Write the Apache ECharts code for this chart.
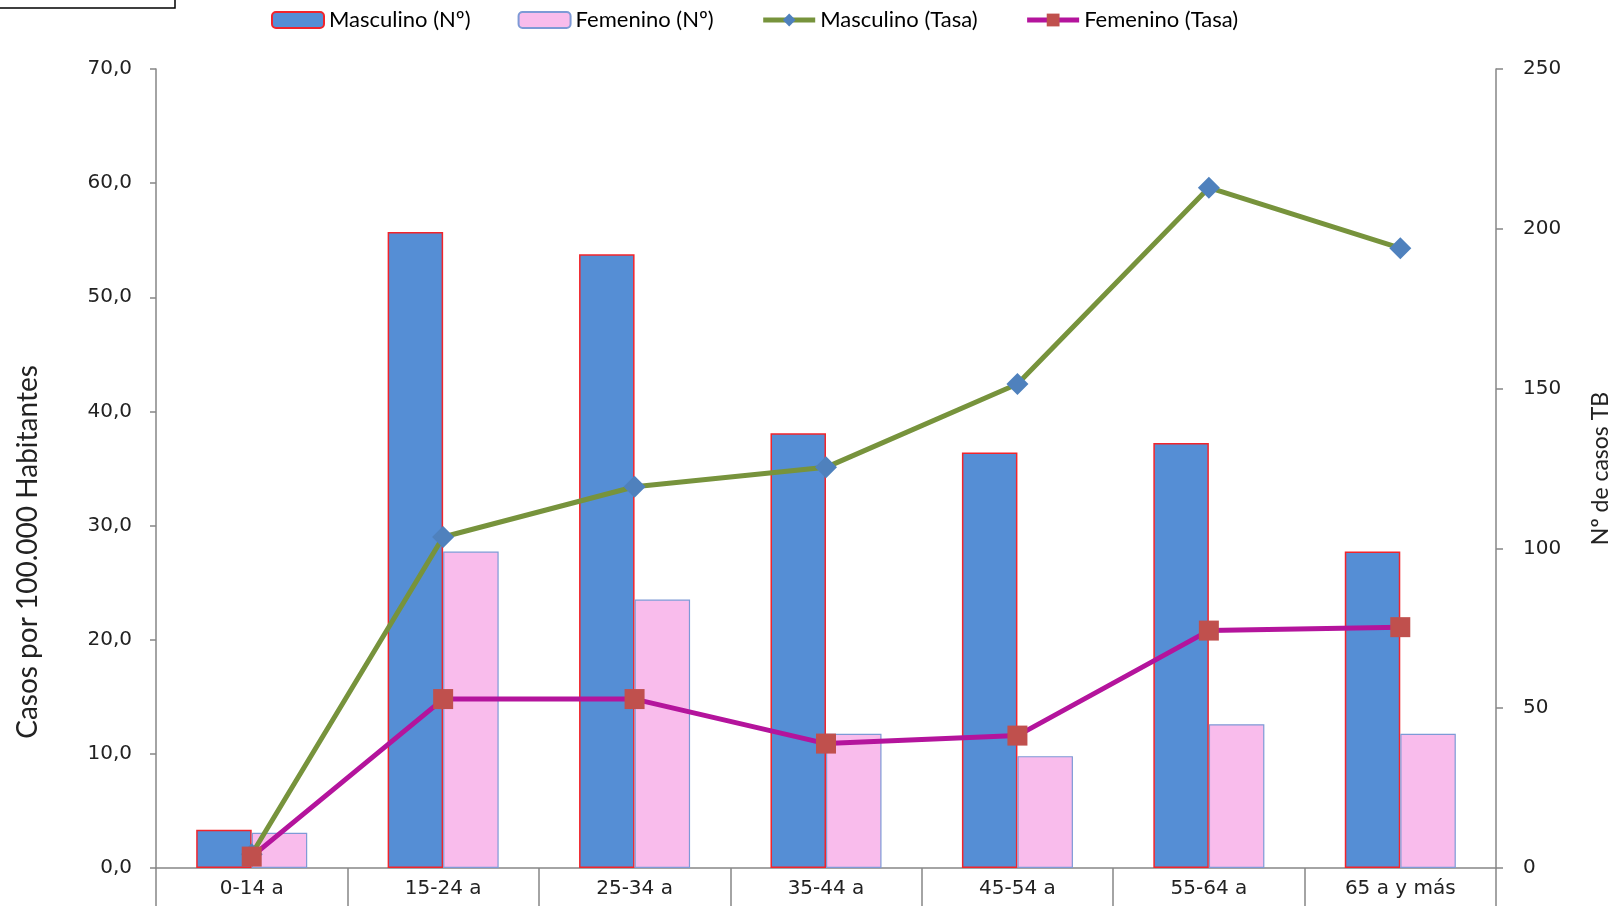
<!DOCTYPE html>
<html>
<head>
<meta charset="utf-8">
<script src="https://cdn.jsdelivr.net/npm/echarts@6/dist/echarts.min.js"></script>
<style>
html,body{margin:0;padding:0;background:#fff;}
#chart{width:1618px;height:906px;}
</style>
</head>
<body>
<div id="chart"></div>
<script>
const categories = ['0-14 a', '15-24 a', '25-34 a', '35-44 a', '45-54 a', '55-64 a', '65 a y más'];
const masculinoN = [12, 199, 192, 136, 130, 133, 99];
const femeninoN = [11, 99, 84, 42, 35, 45, 42];
const masculinoTasa = [1.2, 29.0, 33.4, 35.1, 42.4, 59.6, 54.3];
const femeninoTasa = [1.0, 14.8, 14.8, 10.9, 11.6, 20.8, 21.1];
const leftTicks = { min: 0, max: 70, interval: 10 };
const rightTicks = { min: 0, max: 250, interval: 50 };

const chart = echarts.init(document.getElementById('chart'));
const tickFont = 'DejaVu Sans';
const titleFont = 'Lato';
const axisGray = '#868686';

chart.setOption({
  animation: false,
  backgroundColor: '#ffffff',
  legend: {
    left: 266,
    top: 4,
    itemWidth: 52,
    itemHeight: 16,
    itemGap: 47,
    textStyle: { fontFamily: titleFont, fontSize: 22, color: '#000' },
    data: [
      { name: 'Masculino (Nº)' },
      { name: 'Femenino (Nº)' },
      { name: 'Masculino (Tasa)', lineStyle: { width: 5 } },
      { name: 'Femenino (Tasa)', lineStyle: { width: 5 } }
    ]
  },
  grid: { left: 156, right: 122, top: 69, bottom: 38, containLabel: false, outerBoundsMode: 'none' },
  xAxis: {
    type: 'category',
    data: categories,
    boundaryGap: true,
    axisLine: { lineStyle: { color: axisGray, width: 1.5 } },
    axisTick: { show: true, interval: 0, alignWithLabel: false, length: 40, lineStyle: { color: axisGray, width: 1.5 } },
    axisLabel: { interval: 0, fontFamily: tickFont, fontSize: 20, color: '#222', margin: 11 }
  },
  yAxis: [
    {
      type: 'value',
      min: leftTicks.min, max: leftTicks.max, interval: leftTicks.interval,
      position: 'left',
      splitLine: { show: false },
      axisLine: { show: true, lineStyle: { color: axisGray, width: 1.5 } },
      axisTick: { show: true, length: 6, lineStyle: { color: axisGray, width: 1.5 } },
      axisLabel: {
        fontFamily: tickFont, fontSize: 20, color: '#222', margin: 24,
        formatter: v => v.toFixed(1).replace('.', ',')
      }
    },
    {
      type: 'value',
      min: rightTicks.min, max: rightTicks.max, interval: rightTicks.interval,
      position: 'right',
      name: 'Nº de casos TB',
      nameLocation: 'middle',
      nameRotate: 90,
      nameGap: 93,
      nameTextStyle: { fontFamily: titleFont, fontSize: 23, color: '#222' },
      splitLine: { show: false },
      axisLine: { show: true, lineStyle: { color: axisGray, width: 1.5 } },
      axisTick: { show: true, length: 7, lineStyle: { color: axisGray, width: 1.5 } },
      axisLabel: { fontFamily: tickFont, fontSize: 20, color: '#222', margin: 27 }
    }
  ],
  series: [
    {
      name: 'Masculino (Nº)', type: 'bar', yAxisIndex: 1,
      data: masculinoN, barWidth: '29%', barGap: '0%',
      itemStyle: { color: '#558ED5', borderColor: '#F2242B', borderWidth: 1.5 },
      z: 2
    },
    {
      name: 'Femenino (Nº)', type: 'bar', yAxisIndex: 1,
      data: femeninoN, barWidth: '29%', barGap: '0%',
      itemStyle: { color: '#F9BCEC', borderColor: '#7E9AD6', borderWidth: 1.2 },
      z: 2
    },
    {
      name: 'Masculino (Tasa)', type: 'line', yAxisIndex: 0,
      data: masculinoTasa,
      symbol: 'diamond', symbolSize: 22,
      lineStyle: { color: '#77933C', width: 5 },
      itemStyle: { color: '#4F81BD' },
      z: 5
    },
    {
      name: 'Femenino (Tasa)', type: 'line', yAxisIndex: 0,
      data: femeninoTasa,
      symbol: 'rect', symbolSize: 20,
      lineStyle: { color: '#B4149C', width: 5 },
      itemStyle: { color: '#C0504D' },
      z: 6
    }
  ],
  graphic: [
    {
      type: 'rect',
      shape: { x: -5, y: -20, width: 180, height: 28 },
      style: { fill: '#fff', stroke: '#000', lineWidth: 1.5 }
    },
    {
      type: 'text',
      x: 28, y: 552,
      rotation: Math.PI / 2,
      style: {
        text: 'Casos por 100.000 Habitantes',
        fontFamily: titleFont, fontSize: 28, fill: '#222',
        align: 'center', verticalAlign: 'middle'
      }
    }
  ]
});
</script>
</body>
</html>
